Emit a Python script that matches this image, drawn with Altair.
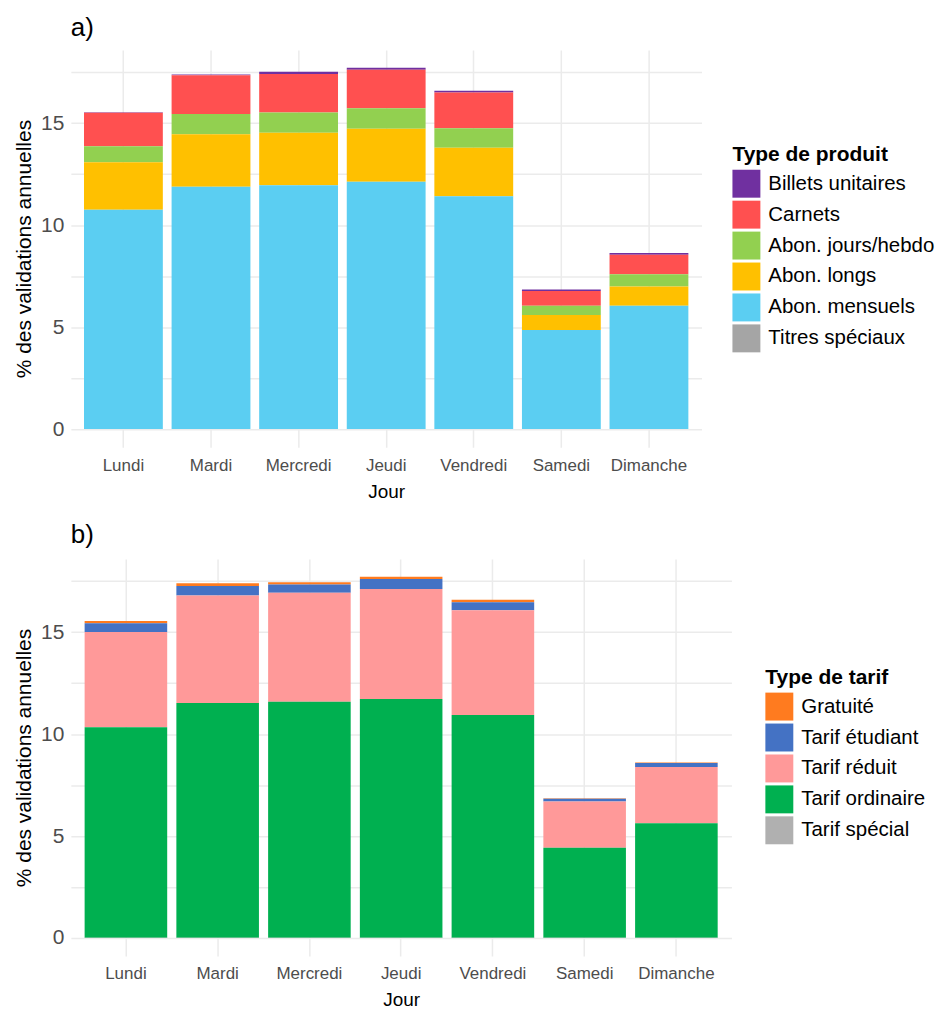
import altair as alt
import pandas as pd

days = ["Lundi", "Mardi", "Mercredi", "Jeudi", "Vendredi", "Samedi", "Dimanche"]

# Panel a: product types (values in % of annual validations)
prod_types = ["Billets unitaires", "Carnets", "Abon. jours/hebdo", "Abon. longs", "Abon. mensuels", "Titres spéciaux"]
billets = [0.03, 0.04, 0.11, 0.10, 0.09, 0.07, 0.09]
carnets = [1.64, 1.90, 1.88, 1.89, 1.75, 0.72, 0.96]
abon_jours = [0.79, 0.99, 1.00, 1.00, 0.95, 0.45, 0.60]
abon_longs = [2.33, 2.57, 2.57, 2.60, 2.38, 0.74, 0.94]
abon_mensuels = [10.74, 11.88, 11.95, 12.12, 11.41, 4.85, 6.04]
titres_speciaux = [0.01, 0.01, 0.01, 0.01, 0.01, 0.01, 0.01]
prod_colors = ["#7030A0", "#FF5050", "#92D050", "#FFC000", "#5BCEF2", "#A5A5A5"]

# Panel b: fare types
tarif_types = ["Gratuité", "Tarif étudiant", "Tarif réduit", "Tarif ordinaire", "Tarif spécial"]
gratuite = [0.12, 0.13, 0.11, 0.11, 0.13, 0.02, 0.02]
etudiant = [0.42, 0.46, 0.41, 0.48, 0.39, 0.14, 0.19]
reduit = [4.68, 5.28, 5.35, 5.40, 5.14, 2.26, 2.76]
ordinaire = [10.32, 11.51, 11.57, 11.71, 10.92, 4.42, 5.62]
special = [0.01, 0.01, 0.01, 0.01, 0.01, 0.01, 0.01]
tarif_colors = ["#FF7B1F", "#4472C4", "#FF9999", "#00B050", "#B0B0B0"]

y_ticks = [0, 2.5, 5, 7.5, 10, 12.5, 15, 17.5]
y_domain = [-0.885, 18.59]

FONT = "Liberation Sans"


def long_df(names, series):
    rows = []
    n = len(names)
    for k, (name, vals) in enumerate(zip(names, series)):
        for d, v in zip(days, vals):
            rows.append({"Jour": d, "type": name, "val": v, "ord": n - k})
    return pd.DataFrame(rows)


df_a = long_df(prod_types, [billets, carnets, abon_jours, abon_longs, abon_mensuels, titres_speciaux])
df_b = long_df(tarif_types, [gratuite, etudiant, reduit, ordinaire, special])


def panel(df, names, colors, legend_title, title, width, legend_x, legend_y, title_offset):
    return alt.Chart(df, title=alt.TitleParams(
        title, anchor="start", fontSize=26, fontWeight="normal", font=FONT, color="black",
        offset=title_offset, frame="group"
    )).mark_bar().encode(
        x=alt.X("Jour:N", sort=days, title="Jour",
                scale=alt.Scale(paddingInner=0.1, paddingOuter=0.15),
                axis=alt.Axis(labelAngle=0, grid=True, bandPosition=0.5, ticks=False, domain=False,
                              gridColor="#EBEBEB", gridWidth=1.5, labelFontSize=17, labelColor="#4D4D4D",
                              labelFont=FONT, titleFont=FONT, titleFontSize=19, titleFontWeight="normal",
                              titleColor="black", labelPadding=10, titlePadding=9)),
        y=alt.Y("val:Q", stack="zero", title="% des validations annuelles",
                scale=alt.Scale(domain=y_domain, nice=False, zero=False),
                axis=alt.Axis(values=y_ticks, labelExpr="datum.value % 5 === 0 ? datum.label : ''",
                              grid=True, ticks=False, domain=False, gridColor="#EBEBEB", gridWidth=1.5,
                              labelFontSize=21, labelColor="#4D4D4D", labelFont=FONT, labelPadding=7,
                              titleFont=FONT, titleFontSize=21, titleFontWeight="normal", titleColor="black",
                              titlePadding=6)),
        color=alt.Color("type:N", scale=alt.Scale(domain=names, range=colors),
                        legend=alt.Legend(title=legend_title, orient="none", legendX=legend_x, legendY=legend_y,
                                          symbolType="square", symbolSize=784, symbolStrokeWidth=0,
                                          symbolOpacity=1, titleFont=FONT, titleFontSize=21,
                                          titleFontWeight="bold", titleColor="black", labelFont=FONT,
                                          labelFontSize=20.5, labelColor="black", rowPadding=3,
                                          labelOffset=8, titlePadding=5, padding=0, labelLimit=400,
                                          titleLimit=400)),
        order=alt.Order("ord:Q", sort="ascending"),
    ).properties(width=width, height=398)


pa = panel(df_a, prod_types, prod_colors, "Type de produit", "a)", 632, 663, 94, 9)
pb = panel(df_b, tarif_types, tarif_colors, "Type de tarif", "b)", 662, 696, 108, 11)

chart = alt.vconcat(pa, pb, spacing=21).resolve_scale(color="independent").properties(
    padding={"left": 5, "top": 6, "right": 0, "bottom": 5}
).configure_view(stroke=None)

chart.save("out.html", embed_options={"renderer": "svg", "actions": False})
